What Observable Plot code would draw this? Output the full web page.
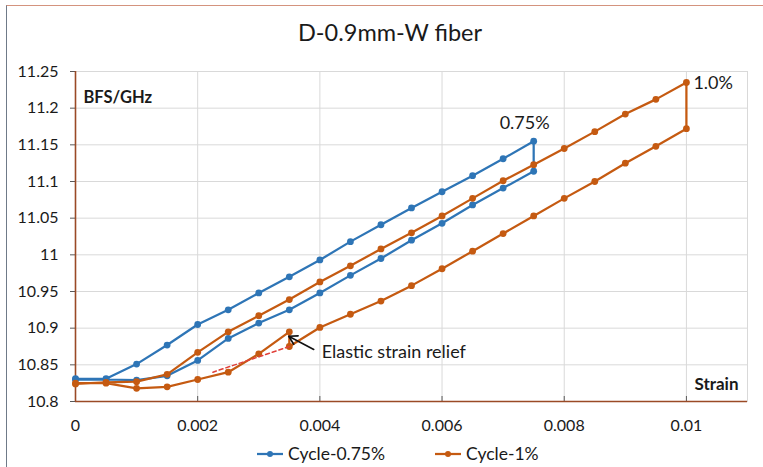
<!DOCTYPE html>
<html><head><meta charset="utf-8">
<script src="https://cdn.jsdelivr.net/npm/d3@7"></script>
<script src="https://cdn.jsdelivr.net/npm/@observablehq/plot@0.6"></script>
<style>
html,body{margin:0;padding:0;background:#fff;}
#wrap{position:relative;width:763px;height:467px;overflow:hidden;font-family:Lato,sans-serif;color:#1a1a1a;background:#fff;}
#border{position:absolute;left:6px;top:5px;right:-5px;bottom:-5px;border-top:1px solid #d4937e;border-left:1px solid #6f7a88;}
#chart{position:absolute;left:0;top:0;}
#title{position:absolute;left:390px;top:17px;transform:translateX(-50%);font-size:23.5px;line-height:30px;white-space:nowrap;}
#legend{position:absolute;left:257px;top:444px;display:flex;gap:50px;font-size:17.5px;line-height:20px;}
.item{display:flex;align-items:center;gap:5px;}
</style>
</head><body>
<div id="wrap">
  <div id="border"></div>
  <div id="chart"></div>
  <div id="title">D-0.9mm-W fiber</div>
  <div id="legend"></div>
</div>
<script>
// ---- data ----
const seriesNames = ["Cycle-0.75%", "Cycle-1%"];
const seriesColors = ["#2e75b6", "#c55a11"];

const strain075 = [0,0.0005,0.001,0.0015,0.002,0.0025,0.003,0.0035,0.004,0.0045,0.005,0.0055,0.006,0.0065,0.007,0.0075,
                   0.0075,0.007,0.0065,0.006,0.0055,0.005,0.0045,0.004,0.0035,0.003,0.0025,0.002,0.0015,0.001,0.0005,0];
const bfs075 = [10.831,10.831,10.851,10.877,10.905,10.925,10.948,10.970,10.993,11.018,11.041,11.064,11.086,11.108,11.131,11.155,
                11.114,11.091,11.068,11.043,11.020,10.995,10.972,10.948,10.925,10.907,10.886,10.856,10.835,10.829,10.830,10.830];

const strain1 = [0,0.0005,0.001,0.0015,0.002,0.0025,0.003,0.0035,0.004,0.0045,0.005,0.0055,0.006,0.0065,0.007,0.0075,0.008,0.0085,0.009,0.0095,0.01,
                 0.01,0.0095,0.009,0.0085,0.008,0.0075,0.007,0.0065,0.006,0.0055,0.005,0.0045,0.004,0.0035,0.0035,0.003,0.0025,0.002,0.0015,0.001,0.0005,0];
const bfs1 = [10.824,10.826,10.827,10.837,10.867,10.895,10.917,10.939,10.963,10.985,11.008,11.030,11.053,11.077,11.101,11.123,11.145,11.168,11.192,11.212,11.235,
              11.172,11.148,11.125,11.100,11.077,11.053,11.029,11.005,10.981,10.958,10.937,10.919,10.901,10.875,10.895,10.865,10.840,10.830,10.820,10.818,10.825,10.825];

const reliefStrain = [0.0035, 0.00225];
const reliefBfs = [10.875, 10.840];

const xTicks = [0,0.002,0.004,0.006,0.008,0.01];
const xTickLabels = ["0","0.002","0.004","0.006","0.008","0.01"];
const yTicks = [10.8,10.85,10.9,10.95,11,11.05,11.1,11.15,11.2,11.25];
const yTickLabels = ["10.8","10.85","10.9","10.95","11","11.05","11.1","11.15","11.2","11.25"];

const peakLabels = ["0.75%", "1.0%"];
const arrowFrom = [0.0039, 10.871];
const arrowTo = [0.00349, 10.889];
const annotationText = "Elastic strain relief";

// ---- build ----
const s075 = strain075.map((x,i)=>({x, y: bfs075[i]}));
const s1 = strain1.map((x,i)=>({x, y: bfs1[i]}));
const relief = reliefStrain.map((x,i)=>({x, y: reliefBfs[i]}));

const axisColor = "#9a4a26";
const gridColor = "#d9d9d9";

const plot = Plot.plot({
  width: 763, height: 467,
  marginLeft: 75, marginRight: 16, marginTop: 71, marginBottom: 66,
  style: {fontFamily: "Lato, sans-serif", fontSize: "16px", color: "#1a1a1a", background: "transparent", overflow: "visible"},
  x: {domain: [0, 0.011]},
  y: {domain: [10.8, 11.25]},
  marks: [
    Plot.frame({stroke: gridColor}),
    Plot.gridY(yTicks, {stroke: gridColor, strokeOpacity: 1}),
    Plot.gridX(xTicks, {stroke: gridColor, strokeOpacity: 1}),
    Plot.axisY(yTicks, {tickFormat: d => yTickLabels[yTicks.indexOf(d)], tickSize: 5, tickPadding: 12, stroke: "#595959", fill: "#1a1a1a", label: null}),
    Plot.axisX(xTicks, {tickFormat: d => xTickLabels[xTicks.indexOf(d)], tickSize: 0, tickPadding: 18, fill: "#1a1a1a", label: null}),
    Plot.tickX(xTicks, {x: d => d, insetTop: 325, stroke: "#595959", strokeWidth: 1}),
    Plot.ruleX([0], {stroke: axisColor, strokeWidth: 1.6}),
    Plot.ruleY([10.8], {stroke: axisColor, strokeWidth: 1.6}),
    Plot.line(s075, {x: "x", y: "y", stroke: seriesColors[0], strokeWidth: 2.25}),
    Plot.dot(s075, {x: "x", y: "y", fill: seriesColors[0], r: 3.4}),
    Plot.line(s1, {x: "x", y: "y", stroke: seriesColors[1], strokeWidth: 2.25}),
    Plot.dot(s1, {x: "x", y: "y", fill: seriesColors[1], r: 3.4}),
    Plot.line(relief, {x: "x", y: "y", stroke: "#e0403a", strokeWidth: 1.5, strokeDasharray: "4,3"}),
    Plot.arrow([{}], {x1: () => arrowFrom[0], y1: () => arrowFrom[1], x2: () => arrowTo[0], y2: () => arrowTo[1], stroke: "#111", strokeWidth: 1.6, headLength: 9}),
    Plot.text([annotationText], {x: () => arrowFrom[0], y: () => arrowFrom[1], text: d => d, textAnchor: "start", dx: 8, dy: 3, fontSize: 18, fill: "#1a1a1a"}),
    Plot.text([peakLabels[0]], {x: () => strain075[15], y: () => bfs075[15], text: d => d, dx: -9, dy: -18, fontSize: 18, fill: "#1a1a1a"}),
    Plot.text([peakLabels[1]], {x: () => strain1[20], y: () => bfs1[20], text: d => d, textAnchor: "start", dx: 7, dy: 1, fontSize: 18, fill: "#1a1a1a"}),
    Plot.text(["BFS/GHz"], {frameAnchor: "top-left", text: d => d, textAnchor: "start", dx: 8, dy: 20, fontWeight: "bold", fontSize: 16.5, fill: "#1a1a1a"}),
    Plot.text(["Strain"], {frameAnchor: "bottom-right", text: d => d, textAnchor: "end", dx: -9, dy: -12, fontWeight: "bold", fontSize: 17, fill: "#1a1a1a"})
  ]
});
document.getElementById("chart").appendChild(plot);

// legend
const legend = document.getElementById("legend");
seriesNames.forEach((name, i) => {
  const item = document.createElement("div");
  item.className = "item";
  item.innerHTML = `<svg width="26" height="10"><line x1="0" y1="5" x2="26" y2="5" stroke="${seriesColors[i]}" stroke-width="2.25"/><circle cx="13" cy="5" r="3" fill="${seriesColors[i]}"/></svg><span>${name}</span>`;
  legend.appendChild(item);
});
</script>
</body></html>
